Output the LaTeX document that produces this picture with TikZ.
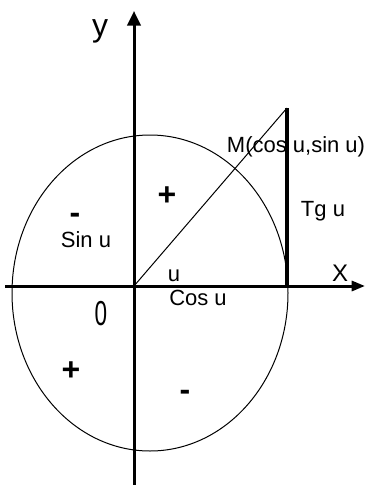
\documentclass[tikz,border=0pt]{standalone}
\usepackage{fontspec}
\setmainfont{Liberation Sans}
\usetikzlibrary{arrows.meta}
\begin{document}
\begin{tikzpicture}[x=0.75pt,y=-0.75pt,
  axis/.style={line width=2.25pt},
  thin/.style={line width=0.75pt},
  lbl/.style={inner sep=0pt,font=\fontsize{16.5}{18}\selectfont},
  sgn/.style={inner sep=0pt,font=\fontsize{24}{26}\selectfont\bfseries}]
\useasboundingbox (0,0) rectangle (369,485);
\fill[white] (0,0) rectangle (369,485);
% points
\coordinate (O) at (134,286);
\coordinate (xl) at (5,286);
\coordinate (xr) at (365,286);
\coordinate (yb) at (134,485);
\coordinate (yt) at (134,11);
\coordinate (T) at (287,108);
\coordinate (A) at (287,286);
% ellipse
\draw[thin] (150,293) ellipse [x radius=138, y radius=158];
% axes
\draw[axis,-{Triangle[length=10pt,width=7.5pt]}] (xl) -- (xr);
\draw[axis,-{Triangle[length=11pt,width=10pt]}] (yb) -- (yt);
% radius line and tangent
\draw[thin] (O) -- (T);
\draw[line width=3pt] (A) -- (T);
% labels
\node[inner sep=0pt,font=\fontsize{24}{26}\selectfont] (ylab) at (100,31) {y};
\node[inner sep=0pt,font=\fontsize{18}{20}\selectfont] (xlab) at (340,273) {X};
\node[inner sep=0pt,font=\fontsize{26}{28}\selectfont] (zero) at (101,314) {\scalebox{0.65}[1]{0}};
\node[lbl] (M) at (296,147) {M(cos u,sin u)};
\node[lbl] (tg) at (323,211) {Tg u};
\node[lbl] (sin) at (86,240) {Sin u};
\node[lbl] (u) at (174,276) {u};
\node[lbl] (cos) at (198,298) {Cos u};
\node[sgn] (p1) at (167,196) {+};
\node[sgn] (p2) at (71,371) {+};
\node[sgn] (m1) at (75,218) {-};
\node[sgn] (m2) at (185,395) {-};
\end{tikzpicture}
\end{document}
